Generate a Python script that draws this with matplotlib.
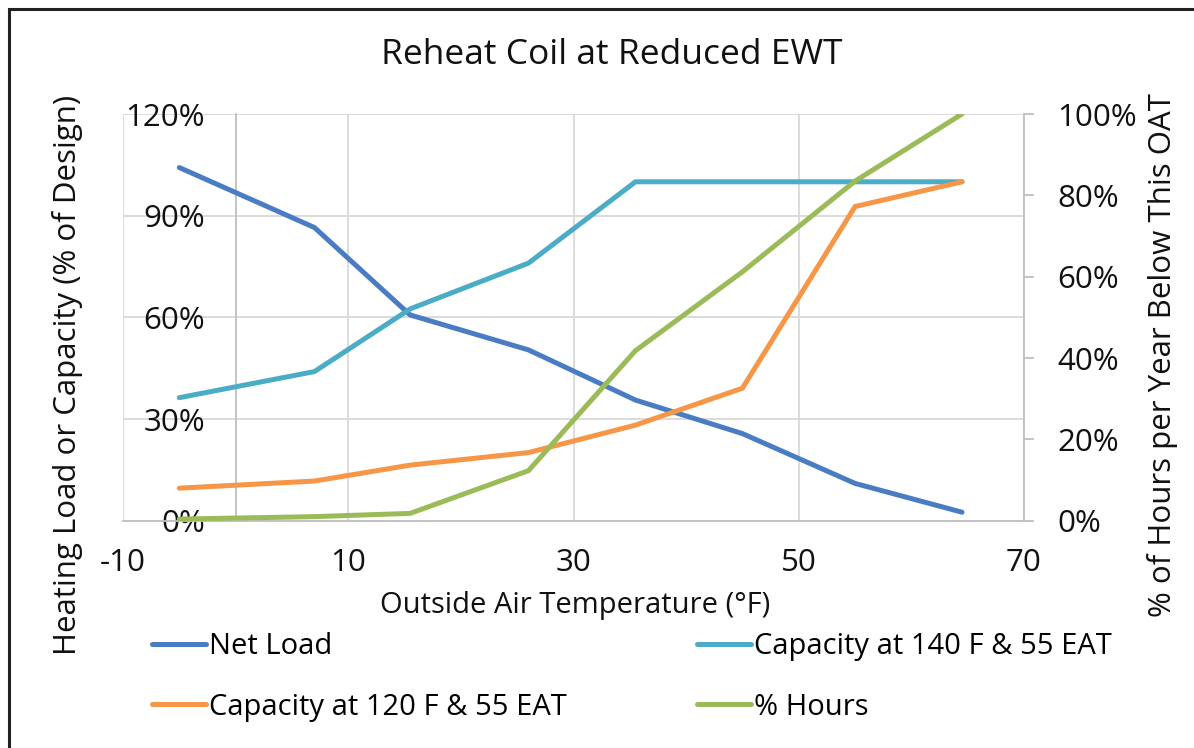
import matplotlib
matplotlib.use("Agg")
import matplotlib.pyplot as plt
import matplotlib.patches as mpatches
from matplotlib.ticker import FuncFormatter, MultipleLocator, FixedLocator

plt.rcParams["axes.unicode_minus"] = False

# ── data ─────────────────────────────────────────────────────────────────────
oat = [-5, 7, 15.5, 26, 35.5, 45, 55, 64.5]
net_load = [104.2, 86.5, 60.7, 50.4, 35.6, 25.7, 11.0, 2.5]
cap_140 = [36.3, 44.0, 62.5, 76.0, 100.0, 100.0, 100.0, 100.0]
cap_120 = [9.6, 11.7, 16.4, 20.1, 28.2, 39.1, 92.7, 100.0]
pct_hours = [0.4, 1.0, 1.8, 12.3, 41.8, 61.2, 83.5, 100.0]
x_ticks = [-10, 10, 30, 50, 70]

C_NET = "#4A7CC4"
C_140 = "#4BACC6"
C_120 = "#F79646"
C_HRS = "#9BBB59"
GRID = "#D9D9D9"
AXIS = "#BFBFBF"

WIDE = ["Open Sans", "DejaVu Sans"]

W, H = 1194, 748
fig = plt.figure(figsize=(W / 100, H / 100), dpi=100)
fig.patch.set_facecolor("white")

# outer chart frame
fig.add_artist(mpatches.Rectangle((9 / W, -0.05), 1.2, 1 - 9 / H + 0.05,
                                  transform=fig.transFigure, fill=False,
                                  edgecolor="#222222", linewidth=2.2))

ax = fig.add_axes([123 / W, 1 - 520.7 / H, (1024 - 123) / W, (520.7 - 114) / H])
ax2 = ax.twinx()

lw = 3.6
ax.plot(oat, net_load, color=C_NET, lw=lw, solid_capstyle="round", label="Net Load", zorder=3)
ax.plot(oat, cap_140, color=C_140, lw=lw, solid_capstyle="round",
        label="Capacity at 140 F & 55 EAT", zorder=3)
ax.plot(oat, cap_120, color=C_120, lw=lw, solid_capstyle="round",
        label="Capacity at 120 F & 55 EAT", zorder=3)
ax2.plot(oat, pct_hours, color=C_HRS, lw=lw, solid_capstyle="round", label="% Hours", zorder=3)

# primary axis
ax.set_xlim(-10, 70)
ax.set_ylim(0, 120)
ax.xaxis.set_major_locator(FixedLocator(x_ticks))
ax.yaxis.set_major_locator(MultipleLocator(30))
ax.yaxis.set_major_formatter(FuncFormatter(lambda v, p: f"{v:.0f}%"))
ax.grid(True, color=GRID, linewidth=1.3)
ax.set_axisbelow(True)
for s in ["top", "right"]:
    ax.spines[s].set_visible(False)
ax.spines["left"].set_position(("data", 0))
ax.spines["left"].set_color(AXIS)
ax.spines["bottom"].set_color(AXIS)
ax.spines["left"].set_linewidth(1.3)
ax.spines["bottom"].set_linewidth(1.3)
ax.tick_params(axis="y", length=0, pad=22, labelsize=22.5, labelcolor="#111111")
ax.tick_params(axis="x", length=0, pad=20, labelsize=22.5, labelcolor="#111111")
for t in ax.get_yticklabels():
    t.set_family(WIDE)
for t in ax.get_xticklabels():
    t.set_family(WIDE)

# secondary axis
ax2.set_ylim(0, 100)
ax2.yaxis.set_major_locator(MultipleLocator(20))
ax2.yaxis.set_major_formatter(FuncFormatter(lambda v, p: f"{v:.0f}%"))
for s in ["top", "left", "bottom"]:
    ax2.spines[s].set_visible(False)
ax2.spines["right"].set_color(AXIS)
ax2.spines["right"].set_linewidth(1.3)
ax2.tick_params(axis="y", length=7, width=1.3, color=AXIS, pad=17,
                labelsize=22.5, labelcolor="#111111")
for t in ax2.get_yticklabels():
    t.set_family(WIDE)

# labels
fig.text(612 / W, 1 - 55 / H, "Reheat Coil at Reduced EWT", ha="center", va="center",
         fontsize=25.5, family=WIDE, color="#111111")
fig.text(575 / W, 1 - 605 / H, "Outside Air Temperature (°F)", ha="center", va="center",
         fontsize=21, family=WIDE, color="#111111")
fig.text(68 / W, 1 - 375 / H, "Heating Load or Capacity (% of Design)", ha="center",
         va="center", rotation=90, fontsize=22.5, family=WIDE, color="#111111")
fig.text(1163 / W, 1 - 355 / H, "% of Hours per Year Below This OAT", ha="center",
         va="center", rotation=90, fontsize=22.5, family=WIDE, color="#111111")

# legend: two rows, two columns
h1, l1 = ax.get_legend_handles_labels()
h2, l2 = ax2.get_legend_handles_labels()
handles = [h1[0], h1[2], h1[1], h2[0]]
labels = [l1[0], l1[2], l1[1], l2[0]]
leg = fig.legend(handles, labels, ncol=2, loc="center left",
                 bbox_to_anchor=(126 / W, 1 - 677 / H), frameon=False,
                 prop={"family": WIDE, "size": 21}, handlelength=1.85,
                 handletextpad=0.1, columnspacing=4.45, labelspacing=1.07)

fig.savefig("out.png", dpi=100, facecolor="white")
